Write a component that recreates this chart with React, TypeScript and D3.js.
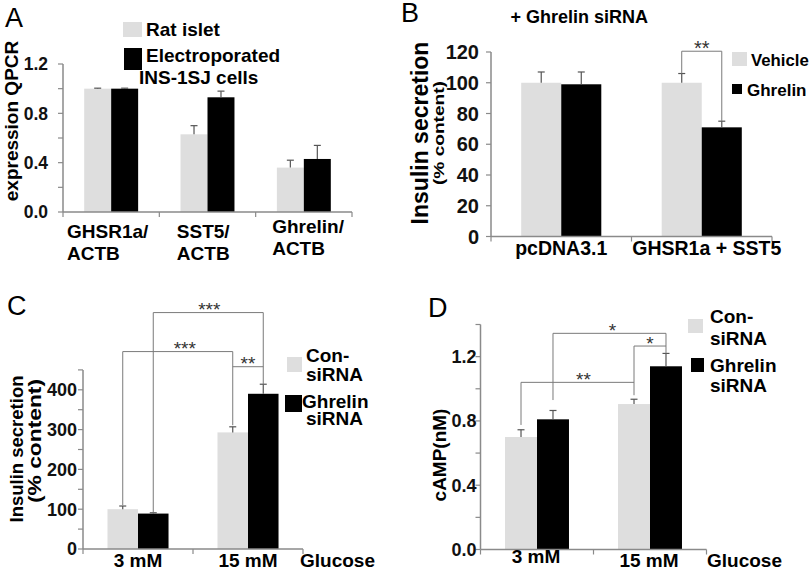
import React from "react";
import * as d3 from "d3";

const FONT = "'Liberation Sans', Arial, Helvetica, sans-serif";
const LIGHT = "#dedede";
const DARK = "#000000";
const AXIS = "#8a8a8a";
const ERR = "#555555";
const BRK = "#7a7a7a";

// ---------- Panel A data ----------
const categoriesA = [["GHSR1a/", "ACTB"], ["SST5/", "ACTB"], ["Ghrelin/", "ACTB"]];
const seriesA = ["Rat islet", "Electroporated INS-1SJ cells"];
const ratIslet = [1.0, 0.63, 0.36];
const ratIsletErr = [0.004, 0.07, 0.06];
const electroporated = [1.0, 0.93, 0.43];
const electroporatedErr = [0.004, 0.05, 0.11];
const ticksA = [0, 0.2, 0.4, 0.6, 0.8, 1.0, 1.2];
const labeledTicksA = [0, 0.4, 0.8, 1.2];

// ---------- Panel B data ----------
const categoriesB = ["pcDNA3.1", "GHSR1a + SST5"];
const seriesB = ["Vehicle", "Ghrelin"];
const vehicleB = [100, 100];
const vehicleBErr = [7, 6];
const ghrelinB = [99, 71];
const ghrelinBErr = [8, 4];
const ticksB = [0, 20, 40, 60, 80, 100, 120];
const labeledTicksB = [0, 20, 40, 60, 80, 100, 120];

// ---------- Panel C data ----------
const categoriesC = ["3 mM", "15 mM"];
const seriesCD = [["Con-", "siRNA"], ["Ghrelin", "siRNA"]];
const conSiRNA_C = [100, 293];
const conSiRNA_CErr = [8, 14];
const ghrelinSiRNA_C = [89, 390];
const ghrelinSiRNA_CErr = [2, 24];
const ticksC = [0, 50, 100, 150, 200, 250, 300, 350, 400, 450];
const labeledTicksC = [0, 100, 200, 300, 400];

// ---------- Panel D data ----------
const categoriesD = ["3 mM", "15 mM"];
const conSiRNA_D = [0.7, 0.905];
const conSiRNA_DErr = [0.045, 0.03];
const ghrelinSiRNA_D = [0.81, 1.14];
const ghrelinSiRNA_DErr = [0.055, 0.08];
const ticksD = [0, 0.2, 0.4, 0.6, 0.8, 1.0, 1.2, 1.4];
const labeledTicksD = [0, 0.4, 0.8, 1.2];

// significance brackets: [categoryIndex, seriesIndex, value]
type Bracket = { path: [number, number, number][]; label: string; dx?: number; fs?: number };
const bracketsB: Bracket[] = [
  { path: [[1, 0, 106], [1, 0, 120.5], [1, 1, 120.5], [1, 1, 75]], label: "**", fs: 20 },
];
const bracketsC: Bracket[] = [
  { path: [[0, 1, 92], [0, 1, 594], [1, 1, 594], [1, 1, 414]], label: "***", dx: 1 },
  { path: [[0, 0, 110], [0, 0, 496], [1, 0, 496], [1, 0, 311]], label: "***", dx: 7 },
  { path: [[1, 0, 458], [1, 1, 458]], label: "**" },
];
const bracketsD: Bracket[] = [
  { path: [[0, 1, 0.93], [0, 1, 1.345], [1, 1, 1.345], [1, 1, 1.22]], label: "*", dx: 3 },
  { path: [[1, 0, 0.96], [1, 0, 1.266], [1, 1, 1.266]], label: "*" },
  { path: [[0, 0, 0.775], [0, 0, 1.04], [1, 0, 1.04]], label: "**", dx: 6 },
];

interface PanelCfg {
  nCat: number;
  series: number[][];
  errors: number[][];
  colors: string[];
  yDomain: [number, number];
  yRange: [number, number];
  xRange: [number, number];
  groupFrac: number;
  ticks: number[];
  labeledTicks: number[];
  tickFmt: (v: number) => string;
  tickFont: number;
  tickGap: number;
  brackets: Bracket[];
  catLabels?: (x: d3.ScaleBand<number>) => React.ReactNode;
}

function Panel({ cfg }: { cfg: PanelCfg }) {
  const x = d3.scaleBand<number>().domain(d3.range(cfg.nCat)).range(cfg.xRange).padding(0);
  const y = d3.scaleLinear().domain(cfg.yDomain).range(cfg.yRange);
  const bw = x.bandwidth();
  const gw = bw * cfg.groupFrac;
  const sub = d3.scaleBand<number>().domain(d3.range(cfg.series.length)).range([0, gw]).padding(0);
  const barX = (c: number, s: number) => (x(c) as number) + (bw - gw) / 2 + (sub(s) as number);
  const barC = (c: number, s: number) => barX(c, s) + sub.bandwidth() / 2;
  const y0 = y(0);
  const ax = cfg.xRange[0];
  const edges = [...d3.range(cfg.nCat).map((c) => x(c) as number), cfg.xRange[1]];

  return (
    <g>
      {cfg.series.map((vals, s) =>
        vals.map((v, c) => (
          <rect
            key={`b${s}${c}`}
            x={barX(c, s)}
            y={y(v)}
            width={sub.bandwidth()}
            height={y0 - y(v)}
            fill={cfg.colors[s]}
          />
        ))
      )}
      {cfg.series.map((vals, s) =>
        vals.map((v, c) => {
          const cx = barC(c, s);
          const top = y(v + cfg.errors[s][c]);
          return (
            <g key={`e${s}${c}`} stroke={ERR} strokeWidth={1.2}>
              <line x1={cx} x2={cx} y1={y(v)} y2={top} />
              <line x1={cx - 3.5} x2={cx + 3.5} y1={top} y2={top} />
            </g>
          );
        })
      )}
      {cfg.brackets.map((b, i) => {
        const pts = b.path.map(([c, s, v]) => [barC(c, s), y(v)] as [number, number]);
        const line = d3.line();
        let mx = (pts[0][0] + pts[1][0]) / 2;
        let my = pts[0][1];
        for (let k = 0; k < pts.length - 1; k++) {
          if (Math.abs(pts[k][1] - pts[k + 1][1]) < 0.01) {
            mx = (pts[k][0] + pts[k + 1][0]) / 2;
            my = pts[k][1];
            break;
          }
        }
        return (
          <g key={`k${i}`}>
            <path d={line(pts) as string} fill="none" stroke={BRK} strokeWidth={1} />
            <text
              x={mx + (b.dx || 0)}
              y={my + 3.5}
              textAnchor="middle"
              fontSize={b.fs || 19}
              fontFamily={FONT}
              fill="#333"
            >
              {b.label}
            </text>
          </g>
        );
      })}
      {/* y axis */}
      <line x1={ax} x2={ax} y1={y(cfg.yDomain[0])} y2={y(cfg.yDomain[1])} stroke={AXIS} strokeWidth={1.5} />
      {cfg.ticks.map((t) => (
        <line key={`t${t}`} x1={ax - 5} x2={ax} y1={y(t)} y2={y(t)} stroke={AXIS} strokeWidth={1.2} />
      ))}
      {cfg.labeledTicks.map((t) => (
        <text
          key={`l${t}`}
          x={ax - cfg.tickGap}
          y={y(t)}
          dy="0.36em"
          textAnchor="end"
          fontSize={cfg.tickFont}
          fontWeight="bold"
          fontFamily={FONT}
          fill="#111"
        >
          {cfg.tickFmt(t)}
        </text>
      ))}
      {/* x axis */}
      <line x1={cfg.xRange[0]} x2={cfg.xRange[1]} y1={y0} y2={y0} stroke={AXIS} strokeWidth={1.5} />
      {edges.map((e, i) => (
        <line key={`x${i}`} x1={e} x2={e} y1={y0} y2={y0 + 5} stroke={AXIS} strokeWidth={1.2} />
      ))}
      {cfg.catLabels && cfg.catLabels(x)}
    </g>
  );
}

function T(props: any) {
  const { children, size = 19, weight = "bold", ...rest } = props;
  return (
    <text fontFamily={FONT} fontSize={size} fontWeight={weight} fill="#000" {...rest}>
      {children}
    </text>
  );
}

function RotLabel({ x, y, text, size, weight = "bold", textLength }: any) {
  return (
    <text
      transform={`translate(${x},${y}) rotate(-90)`}
      textAnchor="middle"
      fontFamily={FONT}
      fontSize={size}
      fontWeight={weight}
      fill="#000"
      textLength={textLength}
      lengthAdjust={textLength ? "spacingAndGlyphs" : undefined}
    >
      {text}
    </text>
  );
}

const fmt1 = d3.format(".1f");
const fmt0 = d3.format("d");

export default function App() {
  const cfgA: PanelCfg = {
    nCat: categoriesA.length,
    series: [ratIslet, electroporated],
    errors: [ratIsletErr, electroporatedErr],
    colors: [LIGHT, DARK],
    yDomain: [0, 1.2],
    yRange: [212, 64],
    xRange: [63, 352],
    groupFrac: 0.56,
    ticks: ticksA,
    labeledTicks: labeledTicksA,
    tickFmt: fmt1,
    tickFont: 17.5,
    tickGap: 15,
    brackets: [],
    catLabels: (x) => {
      const offs = [4, 17.5, 16.5];
      const base = [238, 238, 233];
      return categoriesA.map((lines, c) => (
        <T key={c} x={(x(c) as number) + offs[c]} y={base[c]} size={19}>
          <tspan x={(x(c) as number) + offs[c]}>{lines[0]}</tspan>
          <tspan x={(x(c) as number) + offs[c]} dy={22}>
            {lines[1]}
          </tspan>
        </T>
      ));
    },
  };

  const cfgB: PanelCfg = {
    nCat: categoriesB.length,
    series: [vehicleB, ghrelinB],
    errors: [vehicleBErr, ghrelinBErr],
    colors: [LIGHT, DARK],
    yDomain: [0, 120],
    yRange: [236.5, 52],
    xRange: [491, 772],
    groupFrac: 0.57,
    ticks: ticksB,
    labeledTicks: labeledTicksB,
    tickFmt: fmt0,
    tickFont: 20,
    tickGap: 12,
    brackets: bracketsB,
    catLabels: (x) =>
      categoriesB.map((name, c) => (
        <T key={c} x={(x(c) as number) + x.bandwidth() / 2 + (c === 1 ? 5 : 0)} y={255} size={19.5} textAnchor="middle">
          {name}
        </T>
      )),
  };

  const cfgC: PanelCfg = {
    nCat: categoriesC.length,
    series: [conSiRNA_C, ghrelinSiRNA_C],
    errors: [conSiRNA_CErr, ghrelinSiRNA_CErr],
    colors: [LIGHT, DARK],
    yDomain: [0, 450],
    yRange: [549, 369.9],
    xRange: [83, 303],
    groupFrac: 0.555,
    ticks: ticksC,
    labeledTicks: labeledTicksC,
    tickFmt: fmt0,
    tickFont: 18,
    tickGap: 6,
    brackets: bracketsC,
    catLabels: (x) =>
      categoriesC.map((name, c) => (
        <T key={c} x={(x(c) as number) + x.bandwidth() / 2} y={567} size={19} textAnchor="middle">
          {name}
        </T>
      )),
  };

  const cfgD: PanelCfg = {
    nCat: categoriesD.length,
    series: [conSiRNA_D, ghrelinSiRNA_D],
    errors: [conSiRNA_DErr, ghrelinSiRNA_DErr],
    colors: [LIGHT, DARK],
    yDomain: [0, 1.4],
    yRange: [549.5, 324.5],
    xRange: [480.5, 706.5],
    groupFrac: 0.566,
    ticks: ticksD,
    labeledTicks: labeledTicksD,
    tickFmt: fmt1,
    tickFont: 18,
    tickGap: 4,
    brackets: bracketsD,
    catLabels: (x) =>
      categoriesD.map((name, c) => (
        <T key={c} x={(x(c) as number) + x.bandwidth() / 2 - 1} y={c === 0 ? 563 : 567} size={19} textAnchor="middle">
          {name}
        </T>
      )),
  };

  return (
    <svg
      width={810}
      height={580}
      viewBox="0 0 810 580"
      style={{ position: "absolute", left: 0, top: 0, background: "#fff" }}
    >
      <rect x={0} y={0} width={810} height={580} fill="#fff" />

      {/* Panel A */}
      <T x={5} y={27} size={27} weight="normal">A</T>
      <RotLabel x={18} y={121} text="expression QPCR" size={19} />
      <Panel cfg={cfgA} />
      <rect x={123} y={22} width={19} height={15} fill={LIGHT} />
      <T x={146} y={36} size={19}>{seriesA[0]}</T>
      <rect x={124} y={48} width={18} height={22} fill={DARK} />
      <T x={146} y={62} size={19}>{seriesA[1].split(" ")[0]}</T>
      <T x={139} y={84} size={19}>{seriesA[1].split(" ").slice(1).join(" ")}</T>

      {/* Panel B */}
      <T x={401} y={22} size={27} weight="normal">B</T>
      <T x={648} y={23} size={18} textAnchor="end">
        + Ghrelin siRNA
      </T>
      <RotLabel x={428} y={133} text="Insulin secretion" size={23} />
      <RotLabel x={444} y={133} text="(% content)" size={15} textLength={104} />
      <Panel cfg={cfgB} />
      <rect x={732} y={52} width={15} height={14} fill={LIGHT} />
      <T x={751} y={66} size={16.8}>{seriesB[0]}</T>
      <rect x={732} y={84} width={10} height={10} fill={DARK} />
      <T x={747} y={96} size={17}>{seriesB[1]}</T>

      {/* Panel C */}
      <T x={7} y={315} size={27} weight="normal">C</T>
      <RotLabel x={23} y={449} text="Insulin secretion" size={18.5} />
      <RotLabel x={41} y={441} text="(% content)" size={18} textLength={124} />
      <Panel cfg={cfgC} />
      <T x={300} y={567} size={19}>Glucose</T>
      <rect x={287} y={357} width={15} height={15} fill={LIGHT} />
      <T x={306} y={362} size={19}>{seriesCD[0][0]}</T>
      <T x={306} y={381} size={19}>{seriesCD[0][1]}</T>
      <rect x={285} y={395} width={17} height={17} fill={DARK} />
      <T x={302} y={408} size={19}>{seriesCD[1][0]}</T>
      <T x={306} y={425} size={19}>{seriesCD[1][1]}</T>

      {/* Panel D */}
      <T x={428} y={317} size={27} weight="normal">D</T>
      <RotLabel x={446} y={455} text="cAMP(nM)" size={19} />
      <Panel cfg={cfgD} />
      <T x={707} y={567} size={19}>Glucose</T>
      <rect x={688} y={319} width={15} height={14} fill={LIGHT} />
      <T x={710} y={323} size={19}>{seriesCD[0][0]}</T>
      <T x={710} y={345} size={19}>{seriesCD[0][1]}</T>
      <rect x={691} y={358} width={13} height={14} fill={DARK} />
      <T x={710} y={372} size={19}>{seriesCD[1][0]}</T>
      <T x={710} y={392} size={19}>{seriesCD[1][1]}</T>
    </svg>
  );
}
